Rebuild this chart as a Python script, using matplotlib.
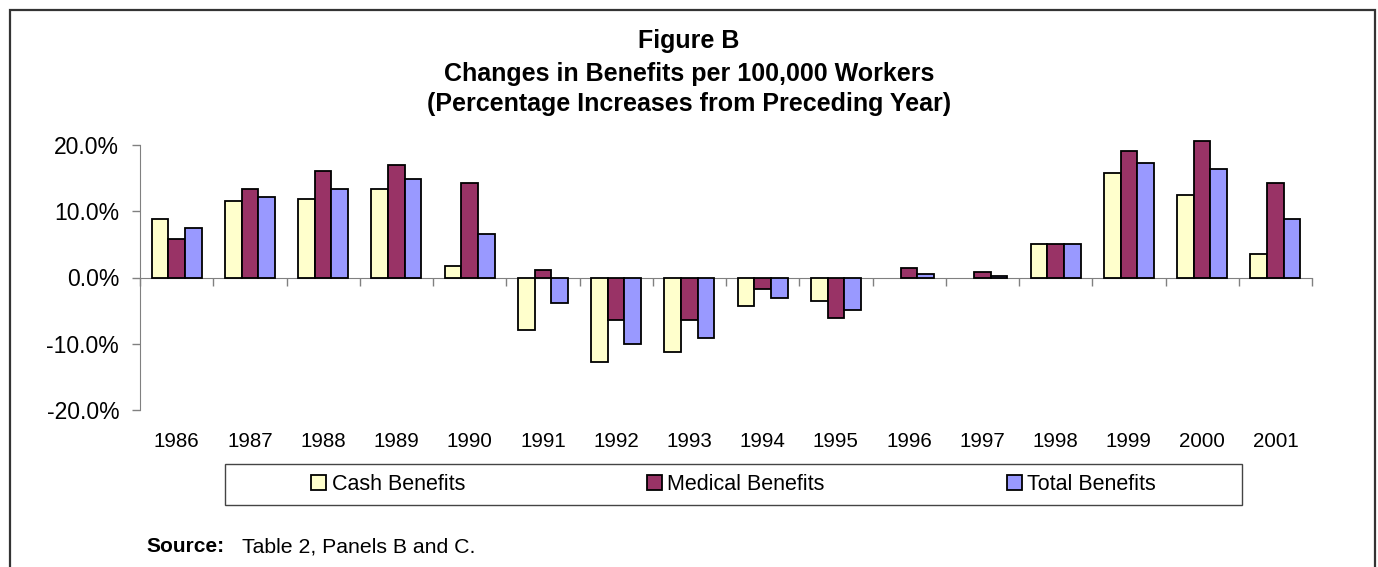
import matplotlib
matplotlib.use("Agg")
import matplotlib.pyplot as plt
import numpy as np
from matplotlib.patches import Rectangle
from matplotlib.ticker import FuncFormatter
import matplotlib.transforms as mtransforms

plt.rcParams['font.family'] = ['Liberation Sans', 'DejaVu Sans']

years = ['1986', '1987', '1988', '1989', '1990', '1991', '1992', '1993',
         '1994', '1995', '1996', '1997', '1998', '1999', '2000', '2001']
# nan = no value reported for that year
cash = [8.8, 11.5, 11.8, 13.3, 1.8, -7.9, -12.8, -11.2, -4.3, -3.6,
        np.nan, np.nan, 5.1, 15.7, 12.4, 3.6]
medical = [5.8, 13.3, 16.1, 17.0, 14.2, 1.2, -6.4, -6.4, -1.8, -6.1,
           1.5, 0.9, 5.1, 19.1, 20.6, 14.2]
total = [7.5, 12.1, 13.3, 14.8, 6.6, -3.9, -10.0, -9.1, -3.1, -4.9,
         0.6, 0.3, 5.1, 17.3, 16.4, 8.8]

series = [("Cash Benefits", cash, "#FFFFCC"),
          ("Medical Benefits", medical, "#993366"),
          ("Total Benefits", total, "#9999FF")]

W, H = 1378, 567
fig = plt.figure(figsize=(W / 100, H / 100), dpi=100)
ax = fig.add_axes([140 / W, 1 - 410 / H, (1312 - 140) / W, (410 - 145) / H])

x = np.arange(len(years))
bw = 0.228
handles = []
for k, (name, vals, col) in enumerate(series):
    b = ax.bar(x + (k - 1) * bw, vals, bw, color=col, edgecolor='black',
               linewidth=1.3, label=name, zorder=3, clip_on=False)
    handles.append(b)

ax.set_xlim(-0.5, len(years) - 0.5)
ax.set_ylim(-20, 20)
ax.set_yticks([-20, -10, 0, 10, 20])
ax.yaxis.set_major_formatter(FuncFormatter(lambda v, p: f"{v:.1f}%"))
ax.tick_params(axis='y', direction='out', length=6, width=1, color='#808080',
               labelsize=16.5, pad=9)

# category axis drawn through zero, ticks between groups
for s in ['top', 'right']:
    ax.spines[s].set_visible(False)
ax.spines['left'].set_color('#808080')
ax.spines['bottom'].set_position(('data', 0))
ax.spines['bottom'].set_color('#808080')
ax.set_xticks(np.arange(len(years) + 1) - 0.5)
ax.set_xticklabels([])
ax.tick_params(axis='x', direction='out', length=6, width=1, color='#808080')

trans = mtransforms.blended_transform_factory(ax.transData, ax.transAxes)
for i, yr in enumerate(years):
    ax.text(i, -0.117, yr, transform=trans, ha='center', va='center',
            fontsize=14.8)

# titles
title_lines = ["Figure B",
               "Changes in Benefits per 100,000 Workers",
               "(Percentage Increases from Preceding Year)"]
for ty, line in zip([41, 74, 104], title_lines):
    fig.text(689 / W, 1 - ty / H, line, ha='center', va='center',
             fontsize=18, fontweight='bold')

# legend inside a framed box under the axis
fig.add_artist(Rectangle((225 / W, 1 - 505 / H), (1242 - 225) / W, 41 / H,
                         transform=fig.transFigure, fill=False,
                         edgecolor='#444444', linewidth=1.0))
fig.legend(handles=handles, loc='center',
           bbox_to_anchor=(733.5 / W, 1 - 484.5 / H), ncol=3, frameon=False,
           fontsize=15.5, columnspacing=8.45, handlelength=0.7,
           handleheight=0.7, handletextpad=0.25)

fig.text(146 / W, 1 - 547 / H, "Source:", fontsize=15, fontweight='bold',
         va='center')
fig.text(242 / W, 1 - 547 / H, "Table 2, Panels B and C.", fontsize=15.3,
         va='center')

# outer frame
fig.add_artist(Rectangle((10 / W, -0.05), (1375 - 10) / W, 1.05 - 10 / H,
                         transform=fig.transFigure, fill=False,
                         edgecolor='#333333', linewidth=1.6))

fig.savefig("out.png", dpi=100)
